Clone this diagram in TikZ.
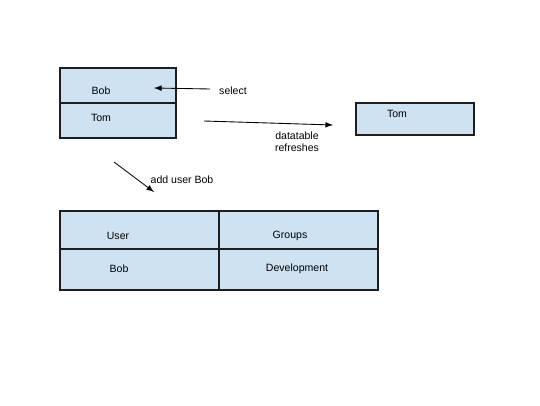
\documentclass[tikz,border=0pt]{standalone}
\usepackage{fontspec}
\setmainfont{Liberation Sans}
\usepackage{tikz}
\usetikzlibrary{positioning,arrows}
\definecolor{cellblue}{RGB}{207,226,241}
\definecolor{linegray}{RGB}{30,30,30}

\begin{document}
\begin{tikzpicture}[x=0.02cm,y=-0.02cm]
\tikzstyle{cell}=[rectangle, draw=linegray, line width=0.6pt, fill=cellblue, inner sep=0pt]
\tikzstyle{txt}=[font=\fontsize{6}{7}\selectfont, inner sep=0pt]
\tikzstyle{connect}=[-latex, line width=0.5pt]
\useasboundingbox (0,0) rectangle (540,405);
	% list on the left
	\node[cell, minimum width=2.32cm, minimum height=0.7cm] (c_bob) at (118,85.5) {};
	\node[cell, minimum width=2.32cm, minimum height=0.7cm] (c_tom) at (118,120.5) {};
	\node[txt] (t_bob) at (101,91) {Bob};
	\node[txt] (t_tom) at (101,118) {Tom};
	% list on the right
	\node[cell, minimum width=2.36cm, minimum height=0.64cm] (r_tom) at (415,119) {};
	\node[txt] (t_rtom) at (397,114) {Tom};
	% table
	\node[cell, minimum width=3.18cm, minimum height=0.76cm] (h_user) at (139.5,230) {};
	\node[cell, minimum width=3.18cm, minimum height=0.76cm] (h_grp) at (298.5,230) {};
	\node[cell, minimum width=3.18cm, minimum height=0.82cm] (d_user) at (139.5,269.5) {};
	\node[cell, minimum width=3.18cm, minimum height=0.82cm] (d_grp) at (298.5,269.5) {};
	\node[txt] (t_user) at (118,236) {User};
	\node[txt] (t_grp) at (290,236) {Groups};
	\node[txt] (t_dbob) at (119,269) {Bob};
	\node[txt] (t_dev) at (297,269) {Development};
	% labels
	\node[txt] (l_sel) at (233,91) {select};
	\node[txt, align=center] (l_ref) at (297,141.5) {datatable\\refreshes};
	\node[txt] (l_add) at (182,180) {add user Bob};
	% arrow ends
	\coordinate (s_from) at (210,89);
	\coordinate (s_to) at (154,88);
	\coordinate (r_from) at (204,121);
	\coordinate (r_to) at (333,125);
	\coordinate (a_from) at (114,162);
	\coordinate (a_to) at (154,192);

	\path
		(s_from) edge [connect] (s_to)
		(r_from) edge [connect] (r_to)
		(a_from) edge [connect] (a_to);
\end{tikzpicture}
\end{document}
